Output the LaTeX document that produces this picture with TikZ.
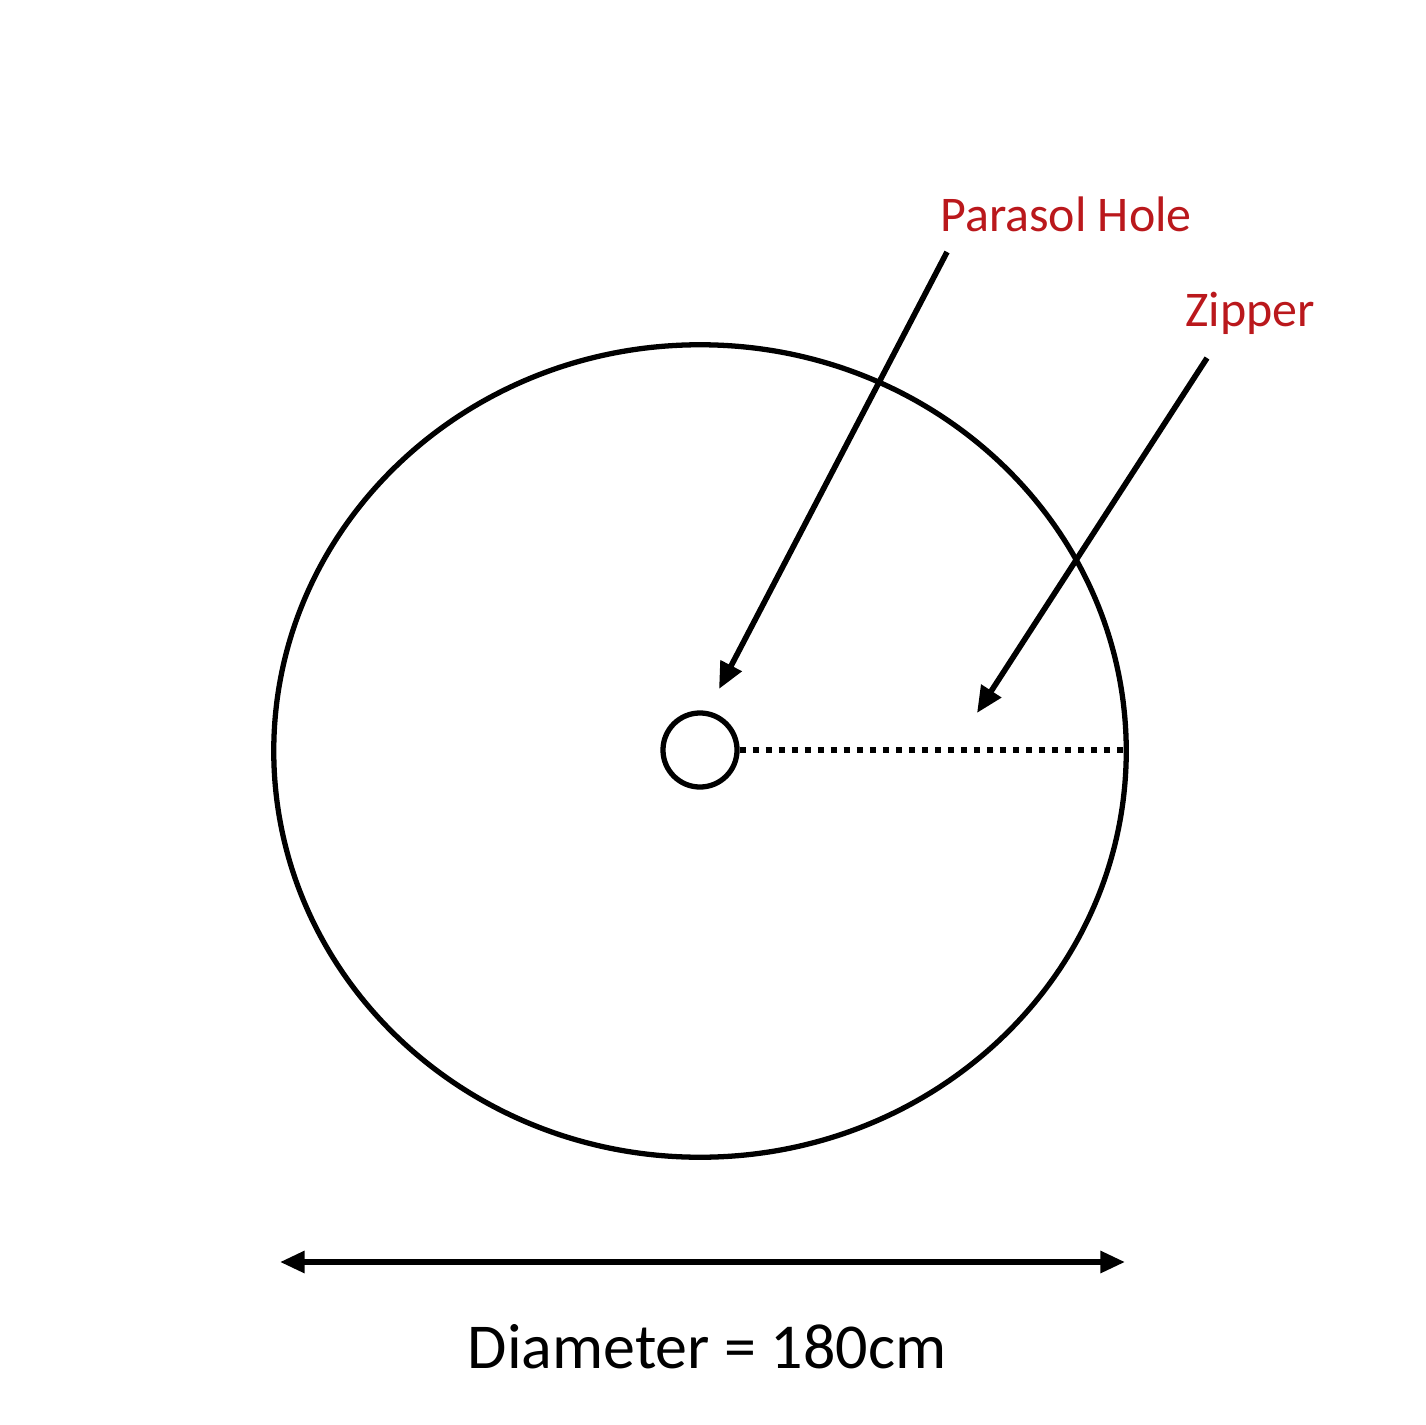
\documentclass[tikz,border=0pt]{standalone}
\usepackage{fontspec}
\setmainfont{Carlito}
\usetikzlibrary{arrows.meta}
\definecolor{labelred}{RGB}{186,24,28}

\begin{document}
\begin{tikzpicture}[x=0.01cm,y=-0.01cm,inner sep=0pt,
	pointer/.style={line width=1.6pt,-{Triangle[length=7.5pt,width=6.5pt]}},
	redlabel/.style={text=labelred,anchor=base,font=\fontsize{14.2}{17}\selectfont}]

\useasboundingbox (0,0) rectangle (1425,1425);

\coordinate (O) at (700,751);
\coordinate (R) at (1126,750);
\coordinate (P1) at (947,252);
\coordinate (P2) at (719,689);
\coordinate (Z1) at (1207,358);
\coordinate (Z2) at (977,713);
\coordinate (DL) at (280,1262);
\coordinate (DR) at (1125,1262);

\draw [line width=1.5pt] (O) ellipse [x radius=4.26cm, y radius=4.06cm];

\node [circle,draw,line width=1.5pt,minimum size=0.74cm] (hole) at (700,750) {};

\draw [line width=1.6pt,dash pattern=on 0.065cm off 0.065cm]
	(hole.east) -- (R);

\node [redlabel] (parasol) at (1066,232) {Parasol Hole};
\node [redlabel] (zipper) at (1250,327) {Zipper};

\draw [pointer] (P1) -- (P2);
\draw [pointer] (Z1) -- (Z2);

\draw [line width=1.6pt,{Triangle[length=7pt,width=6pt]}-{Triangle[length=7pt,width=6pt]}]
	(DL) -- (DR);

\node [anchor=base,font=\fontsize{18.2}{22}\selectfont] (diam) at (707,1368) {Diameter = 180cm};

\end{tikzpicture}
\end{document}
